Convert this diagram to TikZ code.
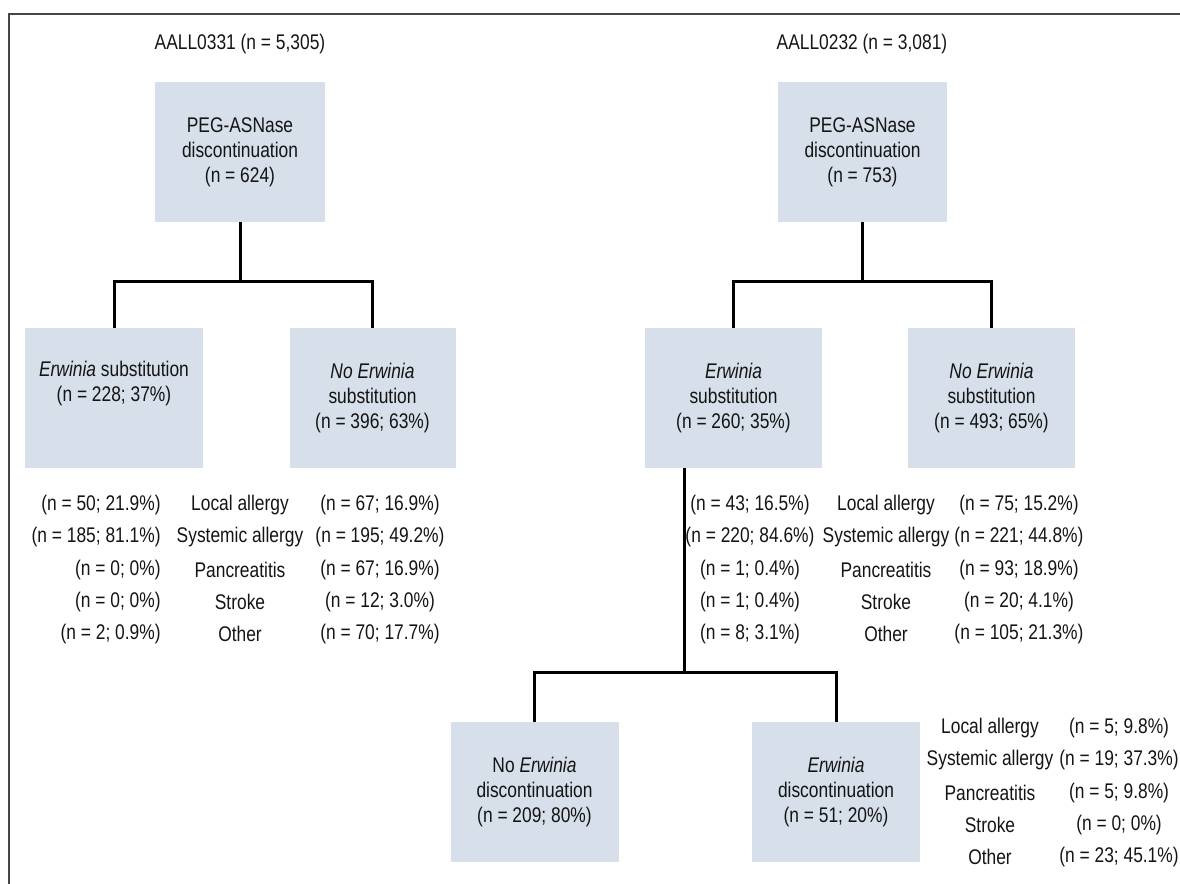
\documentclass[tikz,border=0pt]{standalone}
\usepackage{fontspec}
\setmainfont{Liberation Sans}[FakeStretch=0.82]
\usetikzlibrary{calc}
\definecolor{boxfill}{RGB}{214,223,234}
\definecolor{txt}{RGB}{20,20,20}
\definecolor{framec}{RGB}{70,70,70}
\tikzset{
  tx/.style={font=\fontsize{10.6}{12.5}\selectfont, text=txt, inner sep=0pt},
  box/.style={tx, fill=boxfill, align=center, minimum height=70pt},
  link/.style={line width=1.5pt, black, line join=miter},
  framel/.style={line width=0.7pt, framec},
}
\begin{document}
\begin{tikzpicture}[x=0.5pt,y=-0.5pt]
\useasboundingbox (0,0) rectangle (1180,884);
\draw[framel] (1180,14) -- (9,14) -- (9,884);

% titles
\node[tx] (titleL) at (240,44) {AALL0331 (n = 5,305)};
\node[tx] (titleR) at (862,44) {AALL0232 (n = 3,081)};

% boxes
\node[box, minimum width=85pt] (rootL) at (240,152) {PEG-ASNase\\discontinuation\\(n = 624)};
\node[box, minimum width=84.5pt] (rootR) at (862.5,152) {PEG-ASNase\\discontinuation\\(n = 753)};
\node[box, minimum width=89pt] (erwL) at (114,398) {\textit{Erwinia} substitution\\(n = 228; 37\%)\\\strut};
\node[box, minimum width=83pt] (noerwL) at (372.5,398) {\textit{No Erwinia}\\substitution\\(n = 396; 63\%)};
\node[box, minimum width=88.5pt] (erwR) at (733.5,398) {\textit{Erwinia}\\substitution\\(n = 260; 35\%)};
\node[box, minimum width=83.5pt] (noerwR) at (991.5,398) {\textit{No Erwinia}\\substitution\\(n = 493; 65\%)};
\node[box, minimum width=84pt] (nodisc) at (534.5,792) {No \textit{Erwinia}\\discontinuation\\(n = 209; 80\%)};
\node[box, minimum width=84pt] (disc) at (836,792) {\textit{Erwinia}\\discontinuation\\(n = 51; 20\%)};

% connectors
\draw[link] (rootL.south) -- (rootL.south |- 0,281);
\draw[link] (erwL.north) -- (erwL.north |- 0,281) -- (noerwL.north |- 0,281) -- (noerwL.north);
\draw[link] (rootR.south) -- (rootR.south |- 0,281);
\draw[link] (erwR.north) -- (erwR.north |- 0,281) -- (noerwR.north |- 0,281) -- (noerwR.north);
\coordinate (split) at ($(erwR.south west)!0.226!(erwR.south east)$);
\draw[link] (split) -- (split |- 0,672);
\draw[link] (nodisc.north) -- (nodisc.north |- 0,672) -- (disc.north |- 0,672) -- (disc.north);

% left table
\foreach \i/\y/\a/\l/\b in {
  1/505/{(n = 50; 21.9\%)}/{Local allergy}/{(n = 67; 16.9\%)},
  2/537/{(n = 185; 81.1\%)}/{Systemic allergy}/{(n = 195; 49.2\%)},
  3/570/{(n = 0; 0\%)}/{Pancreatitis}/{(n = 67; 16.9\%)},
  4/602/{(n = 0; 0\%)}/{Stroke}/{(n = 12; 3.0\%)},
  5/634/{(n = 2; 0.9\%)}/{Other}/{(n = 70; 17.7\%)}}{
  \node[tx, anchor=east] (la\i) at (161,\y) {\a};
  \node[tx] (ll\i) at (240,\y) {\l};
  \node[tx] (lb\i) at (380,\y) {\b};
}

% right table
\foreach \i/\y/\a/\l/\b in {
  1/505/{(n = 43; 16.5\%)}/{Local allergy}/{(n = 75; 15.2\%)},
  2/537/{(n = 220; 84.6\%)}/{Systemic allergy}/{(n = 221; 44.8\%)},
  3/570/{(n = 1; 0.4\%)}/{Pancreatitis}/{(n = 93; 18.9\%)},
  4/602/{(n = 1; 0.4\%)}/{Stroke}/{(n = 20; 4.1\%)},
  5/634/{(n = 8; 3.1\%)}/{Other}/{(n = 105; 21.3\%)}}{
  \node[tx] (ra\i) at (750,\y) {\a};
  \node[tx] (rl\i) at (886,\y) {\l};
  \node[tx] (rb\i) at (1019,\y) {\b};
}

% bottom table
\foreach \i/\y/\l/\b in {
  1/728/{Local allergy}/{(n = 5; 9.8\%)},
  2/760/{Systemic allergy}/{(n = 19; 37.3\%)},
  3/793/{Pancreatitis}/{(n = 5; 9.8\%)},
  4/825/{Stroke}/{(n = 0; 0\%)},
  5/857/{Other}/{(n = 23; 45.1\%)}}{
  \node[tx] (bl\i) at (990,\y) {\l};
  \node[tx] (bb\i) at (1119,\y) {\b};
}
\end{tikzpicture}
\end{document}
